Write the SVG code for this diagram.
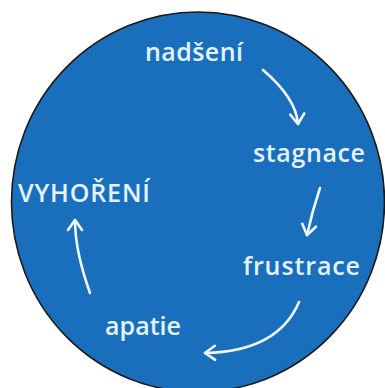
<svg xmlns="http://www.w3.org/2000/svg" width="385" height="388" viewBox="0 0 385 388">
  <defs>
    <style>
      .lbl { font-family: "Open Sans", Roboto, "Liberation Sans", sans-serif; font-weight: 600; fill: #e4f2fb; }
      .arr { fill: none; stroke: #eef7fd; stroke-width: 2.6; stroke-linecap: round; stroke-linejoin: round; }
    </style>
    <marker id="head" markerUnits="userSpaceOnUse" markerWidth="24" markerHeight="24" viewBox="-12 -12 24 24" refX="0" refY="0" orient="auto" overflow="visible">
      <path d="M-10,-7 L0,0 L-10,7" fill="none" stroke="#eef7fd" stroke-width="2.6" stroke-linecap="round" stroke-linejoin="round"/>
    </marker>
  </defs>
  <rect width="385" height="388" fill="#ffffff"/>
  <g id="background">
    <ellipse cx="198" cy="202" rx="186.5" ry="190" fill="#1a6fbd" stroke="#1a1a1a" stroke-width="1.6"/>
  </g>
  <g id="connectors">
    <path class="arr" d="M263,70 Q296,98 298,124" marker-end="url(#head)"/>
    <path class="arr" d="M320,188 Q312,212 307,235" marker-end="url(#head)"/>
    <path class="arr" d="M299,302 C285,335 255,352 205,353" marker-end="url(#head)"/>
    <path class="arr" d="M90,293 C80,265 75,240 75,220" marker-end="url(#head)"/>
  </g>
  <g id="node-nadseni"><text class="lbl" x="145" y="61" font-size="25" textLength="98" lengthAdjust="spacing">nadšení</text></g>
  <g id="node-stagnace"><text class="lbl" x="253" y="162" font-size="25" textLength="112" lengthAdjust="spacing">stagnace</text></g>
  <g id="node-frustrace"><text class="lbl" x="243" y="275" font-size="25" textLength="117" lengthAdjust="spacing">frustrace</text></g>
  <g id="node-apatie"><text class="lbl" x="105" y="335" font-size="25" textLength="76" lengthAdjust="spacing">apatie</text></g>
  <g id="node-vyhoreni"><text class="lbl" x="18" y="202" font-size="25" textLength="132" lengthAdjust="spacing">VYHOŘENÍ</text></g>
</svg>
